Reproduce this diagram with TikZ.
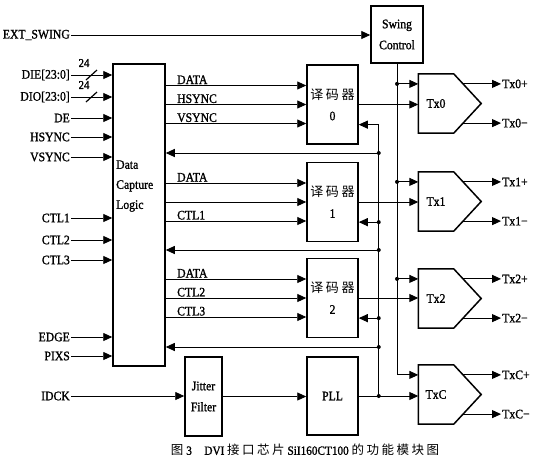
\documentclass[tikz,border=0pt]{standalone}
\usepackage{fontspec}
\setmainfont{Liberation Serif}[FakeBold=1.2,FakeStretch=0.9]
\newfontfamily\cjk{Noto Sans CJK SC}[LetterSpace=20]
\usetikzlibrary{arrows.meta,calc}

\begin{document}
\begin{tikzpicture}[x=1pt,y=-1pt,
  blk/.style={draw,line width=1.5pt,inner sep=0pt,align=center,font=\fontsize{13}{21}\selectfont},
  lbl/.style={inner sep=1pt,font=\fontsize{13}{14}\selectfont},
  sig/.style={line width=0.9pt,-{Triangle[length=9pt,width=8pt]}}]
\useasboundingbox (0,0) rectangle (546,464);

% blocks
\node[blk,minimum width=52,minimum height=57] (swing) at (397,34.5) {Swing\\Control};
\node[blk,minimum width=52,minimum height=302] (dcl) at (139,215) {};
\node[lbl,anchor=west,align=left,font=\fontsize{13}{20}\selectfont] (dcltxt) at (115,186) {Data\\Capture\\Logic};
\foreach \d/\y in {0/104.5,1/202,2/298}
  \node[blk,minimum width=51,minimum height=79] (dec\d) at (332.5,\y) {{\cjk 译码器}\\\d};
\node[blk,minimum width=51,minimum height=78] (pll) at (332.5,396) {PLL};
\node[blk,minimum width=37,minimum height=79] (jit) at (203.5,396.5) {Jitter\\Filter};

% inputs
\foreach \t/\y [count=\k] in {{DIE[23:0]}/75,{DIO[23:0]}/97,DE/118,HSYNC/137,VSYNC/157,CTL1/218,CTL2/240,CTL3/260,EDGE/337,PIXS/356}{
  \node[lbl,anchor=east] (in\k) at (71,\y) {\t};
  \path[draw,sig] (in\k) -- (in\k -| dcl.west);
}
\foreach \k in {1,2}{
  \draw[line width=1.2pt] ($(in\k.east)+(15,5)$) -- ++(11,-10);
  \node[lbl,font=\fontsize{12}{12}\selectfont] (w\k) at ($(in\k.east)+(13,-12)$) {24};
}
\node[lbl,anchor=east] (ext) at (71,35) {EXT\_SWING};
\path[draw,sig] (ext) -- (ext -| swing.west);
\node[lbl,anchor=east] (idck) at (71,396) {IDCK};
\path[draw,sig] (idck) -- (idck -| jit.west);
\path[draw,sig] (jit) -- (jit -| pll.west);

% capture logic to decoders
\foreach \d/\a/\b/\c in {0/DATA/HSYNC/VSYNC,1/DATA//CTL1,2/DATA/CTL2/CTL3}{
  \foreach \o/\t [count=\k] in {-19/\a,0/\b,19/\c}{
    \coordinate (dx\d\k) at ($(dec\d.west)+(0,\o)$);
    \path[draw,sig] (dx\d\k -| dcl.east) -- (dx\d\k)
      node[lbl,pos=0,anchor=south west,xshift=10pt] (dl\d\k) {\t};
  }
}

% transmitters
\foreach \n/\y in {0/103.5,1/201.5,2/298.5,C/394.5}{
  \node[lbl,minimum width=35,minimum height=59,inner sep=0pt] (tx\n) at (436,\y) {Tx\n};
  \coordinate (tip\n) at ($(tx\n.east)+(27.5,0)$);
  \draw[line width=1.5pt] (tx\n.north west) -- (tx\n.north east) -- (tip\n) -- (tx\n.south east) -- (tx\n.south west) -- cycle;
  \coordinate (op\n) at ($(tx\n.north east)!.34!(tip\n)$);
  \coordinate (om\n) at ($(tx\n.south east)!.34!(tip\n)$);
  \node[lbl,anchor=west] (txp\n) at ($(op\n)+(38,0)$) {Tx\n+};
  \node[lbl,anchor=west] (txm\n) at ($(om\n)+(38,0)$) {Tx\n−};
  \path[draw,sig] (op\n) -- (txp\n);
  \path[draw,sig] (om\n) -- (txm\n);
  \coordinate (sw\n) at (swing.south |- op\n);
}
\foreach \d in {0,1,2}
  \path[draw,sig] (dec\d) -- (dec\d -| tx\d.west);
\path[draw,sig] (pll) -- (pll -| txC.west);

% swing bus
\path[draw,sig] (swing) |- (swC -| txC.west);
\foreach \n in {0,1,2}{
  \path[draw,sig] (sw\n) -- (sw\n -| tx\n.west);
  \fill (sw\n) circle (2pt);
}

% clock bus
\coordinate (ck) at ($(pll.east)+(20,0)$);
\coordinate (fb0) at ($(dec0.south east)!.25!(dec0.north east)$);
\path[draw,sig] (ck) |- (fb0);
\fill (ck) circle (2pt);
\foreach \d in {1,2}{
  \coordinate (fb\d) at ($(dec\d.south east)!.25!(dec\d.north east)$);
  \path[draw,sig] (ck |- fb\d) -- (fb\d);
  \fill (ck |- fb\d) circle (2pt);
}
\foreach \y in {153,250,347}{
  \path[draw,sig] (ck |- 0,\y) -- (dcl.east |- 0,\y);
  \fill (ck |- 0,\y) circle (2pt);
}

\node[lbl,font=\fontsize{12.5}{14}\selectfont] (cap) at (305,450) {{\cjk 图} 3\quad DVI {\cjk 接口芯片} SiI160CT100 {\cjk 的功能模块图}};
\end{tikzpicture}
\end{document}
